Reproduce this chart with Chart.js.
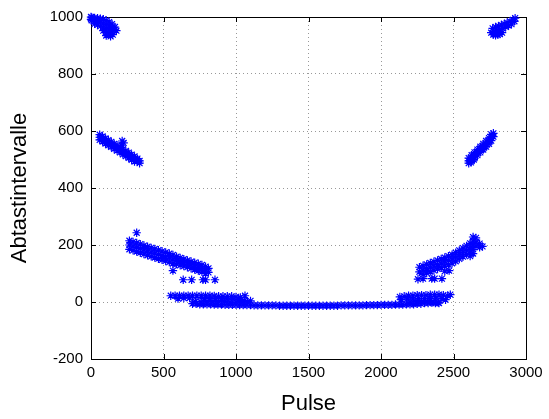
<!DOCTYPE html>
<html>
<head>
<meta charset="utf-8">
<title>Abtastintervalle</title>
<script src="https://cdn.jsdelivr.net/npm/chart.js@4.4.0/dist/chart.umd.min.js"></script>
<style>
    html, body { margin: 0; padding: 0; background: #fff; }
    #chart { display: block; }
</style>
</head>
<body>
<canvas id="chart" width="549" height="419"></canvas>
<script>
// axis ticks
const pulseTicks = [0, 500, 1000, 1500, 2000, 2500, 3000];
const intervalTicks = [-200, 0, 200, 400, 600, 800, 1000];

// [Pulse, Abtastintervalle] pairs
const topLeft = [
    [0, 1000], [0, 992], [5, 998], [5, 988],
    [25, 997], [25, 986], [25, 976],
    [45, 996], [45, 985], [45, 972],
    [65, 994], [65, 982], [65, 968],
    [85, 992], [85, 978], [85, 964], [85, 952],
    [105, 988], [105, 974], [105, 960], [105, 945], [105, 935],
    [125, 982], [125, 968], [125, 955], [125, 940], [135, 932],
    [145, 975], [145, 962], [145, 950], [150, 938],
    [165, 965], [165, 955], [175, 952]
];

const upperLeft = [
    [60, 587], [60, 578], [60, 569],
    [80, 581], [80, 572], [80, 563],
    [100, 574], [100, 565], [100, 556],
    [120, 568], [120, 559], [120, 550],
    [140, 562], [140, 553], [140, 544],
    [160, 555], [160, 546], [160, 537],
    [180, 549], [180, 540], [180, 531],
    [200, 543], [200, 534], [200, 525],
    [215, 565], [225, 558], [210, 550],
    [220, 536], [220, 527], [220, 518],
    [240, 530], [240, 521], [240, 512],
    [260, 524], [260, 515], [260, 506],
    [280, 517], [280, 508], [280, 499],
    [300, 511], [300, 502], [300, 493],
    [320, 503], [320, 494], [335, 495], [335, 487]
];

const middleLeft = [
    [265, 215], [265, 200], [265, 185],
    [290, 211], [290, 196], [290, 181],
    [315, 243], [315, 207], [315, 192], [315, 177],
    [340, 203], [340, 188], [340, 173],
    [365, 198], [365, 183], [365, 168],
    [390, 194], [390, 179], [390, 164],
    [415, 190], [415, 175], [415, 160],
    [440, 186], [440, 171], [440, 156],
    [465, 182], [465, 167], [465, 152],
    [490, 178], [490, 163], [490, 148],
    [515, 174], [515, 159], [515, 144],
    [540, 170], [540, 155], [540, 140],
    [565, 165], [565, 150], [565, 135], [565, 110],
    [590, 159], [590, 146], [590, 133],
    [615, 155], [615, 142], [615, 129],
    [640, 150], [640, 138], [640, 126],
    [665, 146], [665, 134], [665, 122],
    [690, 142], [690, 130], [690, 118],
    [715, 138], [715, 126], [715, 114],
    [740, 134], [740, 122], [740, 110],
    [765, 130], [765, 118], [765, 106],
    [790, 124], [790, 112], [790, 100],
    [810, 118], [810, 104],
    [636, 78], [694, 78], [772, 78], [790, 78], [855, 78]
];

const lowLeft = [
    [550, 22], [580, 22], [610, 22], [640, 22], [670, 22], [700, 22],
    [730, 22], [760, 22], [790, 22], [820, 22], [850, 21], [880, 20],
    [910, 20], [940, 20], [970, 20], [1000, 18], [1030, 16], [1062, 22],
    [600, 12], [640, 14], [680, 14], [780, 12], [820, 12], [860, 12],
    [900, 12], [940, 10], [980, 10], [1020, 8], [1060, 6], [1100, 4],
    [720, 2], [760, 0], [800, 2], [840, 2], [880, 2], [920, 2],
    [960, 0], [1000, 0], [1040, 0], [1080, 0]
];

const baseLine = [
    [700, -6], [725, -6], [750, -8], [775, -8], [800, -8], [825, -8],
    [850, -9], [875, -9], [900, -9], [925, -10], [950, -10], [975, -10],
    [1000, -10], [1025, -11], [1050, -11], [1075, -11], [1100, -11], [1125, -12],
    [1150, -12], [1175, -12], [1200, -12], [1225, -12], [1250, -12], [1275, -12],
    [1300, -13], [1325, -13], [1350, -13], [1375, -13], [1400, -13], [1425, -13],
    [1450, -13], [1475, -13], [1500, -13], [1525, -13], [1550, -13], [1575, -13],
    [1600, -13], [1625, -13], [1650, -13], [1675, -13], [1700, -13], [1725, -12],
    [1750, -12], [1775, -12], [1800, -12], [1825, -12], [1850, -12], [1875, -12],
    [1900, -11], [1925, -11], [1950, -11], [1975, -11], [2000, -10], [2025, -10],
    [2050, -10], [2075, -10], [2100, -9], [2125, -9], [2150, -9], [2175, -8],
    [2200, -8], [2225, -8], [2250, -6], [2275, -6], [2300, -4], [2325, -4],
    [2350, -2], [2375, -4], [2400, -4]
];

const lowRight = [
    [2130, 18], [2160, 20], [2190, 22], [2220, 22], [2250, 24], [2280, 24],
    [2310, 24], [2340, 26], [2370, 26], [2400, 26], [2430, 24], [2460, 22], [2478, 26],
    [2140, 8], [2180, 10], [2220, 10], [2260, 12], [2300, 12], [2340, 12],
    [2380, 14], [2420, 12], [2445, 8],
    [2200, 0], [2240, 2], [2280, 2], [2320, 2], [2360, 0], [2395, -2]
];

const middleRight = [
    [2265, 122], [2265, 106],
    [2290, 127], [2290, 112], [2290, 97],
    [2315, 132], [2315, 117], [2315, 102],
    [2340, 137], [2340, 122], [2340, 107],
    [2365, 141], [2365, 126], [2365, 111],
    [2390, 146], [2390, 131], [2390, 116],
    [2415, 151], [2415, 136], [2415, 121],
    [2440, 156], [2440, 141], [2440, 126], [2440, 108],
    [2465, 161], [2465, 146], [2465, 131], [2470, 110],
    [2490, 166], [2490, 151], [2490, 136],
    [2515, 173], [2515, 158], [2515, 143],
    [2540, 181], [2540, 166], [2540, 151],
    [2565, 189], [2565, 174], [2565, 159],
    [2590, 197], [2590, 182], [2590, 167],
    [2615, 206], [2615, 191], [2615, 176], [2615, 161],
    [2635, 228], [2635, 214], [2635, 200], [2635, 185], [2635, 170],
    [2655, 225], [2655, 210], [2655, 196],
    [2680, 205], [2680, 192], [2700, 195],
    [2255, 80], [2290, 82], [2350, 82], [2370, 82], [2420, 82]
];

const upperRight = [
    [2605, 505], [2605, 495], [2605, 487], [2620, 490], [2640, 500],
    [2625, 515], [2625, 505], [2625, 495],
    [2645, 525], [2645, 515], [2645, 505],
    [2665, 535], [2665, 525], [2665, 515],
    [2685, 545], [2685, 535], [2685, 525],
    [2705, 555], [2705, 545], [2705, 535],
    [2725, 565], [2725, 555], [2725, 545],
    [2745, 575], [2745, 565], [2745, 555],
    [2760, 588], [2760, 578], [2760, 566],
    [2775, 592], [2775, 580]
];

const topRight = [
    [2760, 945], [2775, 938], [2790, 936], [2805, 938], [2820, 940], [2835, 945],
    [2770, 960], [2790, 965], [2810, 968], [2830, 972], [2850, 976], [2870, 980],
    [2890, 985], [2910, 990], [2925, 996],
    [2780, 950], [2800, 952], [2820, 956], [2840, 960], [2860, 965], [2880, 970],
    [2900, 975], [2920, 985]
];

const clusters = [topLeft, upperLeft, middleLeft, lowLeft, baseLine,
                  lowRight, middleRight, upperRight, topRight];

const toPoints = (pairs) => pairs.map(([x, y]) => ({ x: x, y: y }));

// MATLAB style frame: full box with inward ticks on all four sides
const matlabBox = {
    id: 'matlabBox',
    beforeDatasetsDraw(chart) {
        const { ctx, chartArea: a, scales } = chart;
        const tickLen = 5;
        ctx.save();
        ctx.strokeStyle = '#000';
        ctx.lineWidth = 1;
        ctx.strokeRect(a.left + 0.5, a.top + 0.5, a.right - a.left, a.bottom - a.top);
        ctx.beginPath();
        scales.x.ticks.forEach(t => {
            const px = Math.round(scales.x.getPixelForValue(t.value)) + 0.5;
            ctx.moveTo(px, a.bottom);
            ctx.lineTo(px, a.bottom - tickLen);
            ctx.moveTo(px, a.top);
            ctx.lineTo(px, a.top + tickLen);
        });
        scales.y.ticks.forEach(t => {
            const py = Math.round(scales.y.getPixelForValue(t.value)) + 0.5;
            ctx.moveTo(a.left, py);
            ctx.lineTo(a.left + tickLen, py);
            ctx.moveTo(a.right, py);
            ctx.lineTo(a.right - tickLen, py);
        });
        ctx.stroke();
        ctx.restore();
    }
};

const tickFont = { family: 'Liberation Sans, Arial, sans-serif', size: 15 };
const titleFont = { family: 'Liberation Sans, Arial, sans-serif', size: 22 };

new Chart(document.getElementById('chart'), {
    type: 'scatter',
    data: {
        datasets: clusters.map(c => ({
            data: toPoints(c),
            pointStyle: 'star',
            radius: 4.2,
            borderWidth: 1.2,
            borderColor: '#0000ff',
            backgroundColor: '#0000ff',
            clip: false
        }))
    },
    options: {
        responsive: false,
        animation: false,
        layout: { padding: { top: 16, right: 23, left: 0, bottom: 0 } },
        plugins: {
            legend: { display: false },
            tooltip: { enabled: false }
        },
        scales: {
            x: {
                type: 'linear',
                min: 0,
                max: 3000,
                afterBuildTicks: (scale) => { scale.ticks = pulseTicks.map(v => ({ value: v })); },
                afterFit: (scale) => { scale.height = 60; },
                ticks: {
                    color: '#000', font: tickFont, padding: 5, maxRotation: 0,
                    callback: (value) => String(value)
                },
                grid: { color: '#999', lineWidth: 1, drawTicks: false },
                border: { display: false, dash: [1, 3] },
                title: {
                    display: true,
                    text: 'Pulse',
                    color: '#000',
                    font: titleFont,
                    padding: { top: 0, bottom: 2 }
                }
            },
            y: {
                type: 'linear',
                min: -200,
                max: 1000,
                afterBuildTicks: (scale) => { scale.ticks = intervalTicks.map(v => ({ value: v })); },
                afterFit: (scale) => { scale.width = 91; },
                ticks: {
                    color: '#000', font: tickFont, padding: 8,
                    callback: (value) => String(value)
                },
                grid: { color: '#999', lineWidth: 1, drawTicks: false },
                border: { display: false, dash: [1, 3] },
                title: {
                    display: true,
                    text: 'Abtastintervalle',
                    color: '#000',
                    font: titleFont,
                    padding: { top: 7, bottom: 0 }
                }
            }
        }
    },
    plugins: [matlabBox]
});
</script>
</body>
</html>
